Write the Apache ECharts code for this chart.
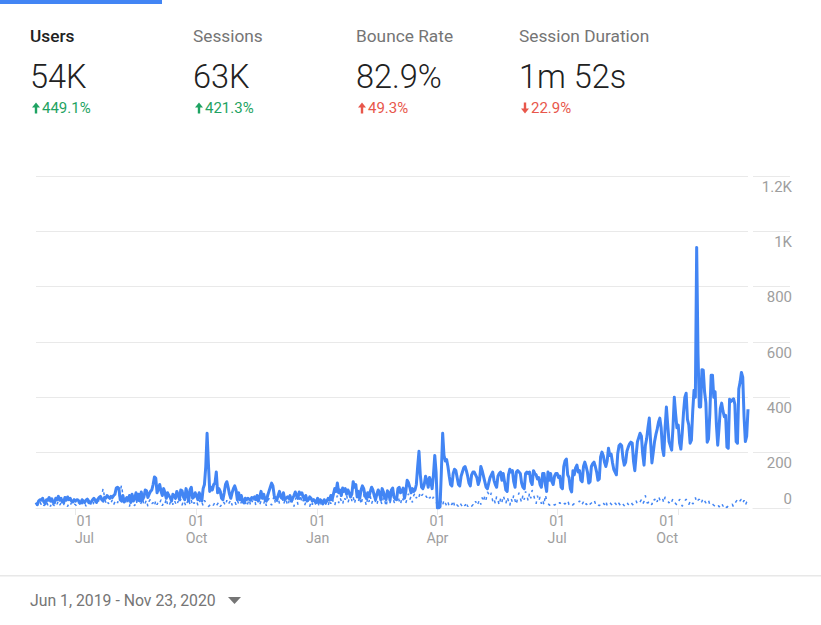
<!DOCTYPE html>
<html><head><meta charset="utf-8">
<style>html,body{margin:0;padding:0;background:#fff}#c{width:821px;height:625px}</style>
<script src="https://cdn.jsdelivr.net/npm/echarts@6/dist/echarts.min.js"></script>
</head><body><div id="c"></div>
<script>
const monthStarts=[[2019,5],[2019,6],[2019,7],[2019,8],[2019,9],[2019,10],[2019,11],[2020,0],[2020,1],[2020,2],[2020,3],[2020,4],[2020,5],[2020,6],[2020,7],[2020,8],[2020,9],[2020,10]];
const usersByMonth=[
[20,12,25,30,28,35,22,15,30,28,38,25,33,20,18,35,30,42,28,35,22,20,38,28,40,30,35,25,22,30],
[25,30,28,22,18,30,25,20,28,32,25,18,22,30,35,28,20,32,38,42,30,25,38,35,45,40,35,42,38,45,50],
[72,75,70,30,25,45,22,30,38,28,45,20,50,25,35,55,28,50,25,58,30,40,65,62,38,50,60,65,85,112,108],
[55,70,85,60,45,70,55,35,55,45,38,25,50,45,35,60,48,30,65,62,40,30,70,50,25,65,75,35,40,55],
[45,30,55,40,25,70,85,150,270,160,60,75,65,85,90,130,55,70,60,35,30,55,85,95,75,50,35,55,70,80,65],
[30,55,30,45,25,18,35,30,35,32,28,38,35,40,30,45,25,40,60,35,50,30,25,45,60,75,90,80,45,35],
[30,45,60,40,35,55,30,35,40,35,45,25,35,45,58,45,35,58,50,55,40,30,45,25,30,40,35,25,30,25,20],
[35,20,30,25,15,30,20,25,35,28,45,30,50,70,60,90,55,65,45,72,60,70,50,65,55,40,50,95,75,85,40],
[60,35,65,80,70,45,35,55,40,60,75,65,45,30,50,65,55,30,70,58,38,30,62,55,28,65,72,40,32],
[30,70,75,55,60,72,35,60,100,92,75,55,70,60,65,85,150,205,120,75,70,85,115,100,75,110,95,70,120,190,130],
[0,0,5,130,270,190,170,175,150,115,85,80,125,140,135,110,85,80,115,130,145,150,135,115,90,80,120,130,130,120],
[110,85,100,150,135,115,95,75,70,90,110,120,130,100,85,75,115,125,130,100,125,95,65,60,120,140,130,135,95,75,130],
[135,130,125,90,75,70,125,130,125,130,95,85,135,125,120,105,110,85,75,125,125,85,60,130,100,125,95,85,115,125],
[125,110,115,75,70,150,170,177,120,110,70,58,135,120,145,155,130,135,100,95,150,166,150,130,90,95,150,160,166,150,130],
[100,105,185,202,190,165,150,170,216,190,195,165,140,130,120,195,225,231,225,180,155,165,205,220,232,238,235,170,135,190,240],
[255,270,260,195,155,225,250,290,325,240,163,200,240,265,285,310,325,290,215,190,290,365,300,240,225,209,290,400,340,290],
[300,235,213,270,345,400,415,320,300,234,245,350,426,400,942,560,365,365,500,498,420,380,238,250,340,480,480,400,420,300,227],
[290,360,379,350,330,335,220,216,393,385,390,395,375,240,234,430,455,490,473,330,240,260,357]
];
const previousByMonth=[
[18,8,15,22,12,20,8,15,25,10,18,5,22,12,8,20,14,25,10,18,6,12,22,15,5,18,10,20,8,14],
[12,5,20,15,8,22,10,18,6,25,15,28,10,5,22,18,30,12,35,25,45,72,40,20,30,15,25,18,30,12,22],
[30,18,40,60,83,45,20,30,12,28,5,25,35,15,8,30,12,28,10,20,35,8,18,30,5,25,32,15,20,6,28],
[12,25,18,30,8,22,15,35,10,5,20,28,12,30,18,8,25,15,32,10,28,18,5,22,35,12,28,8,20,15],
[25,10,30,15,22,8,28,18,12,5,10,15,6,12,20,8,15,22,5,12,25,18,8,28,12,20,30,10,18,25,12],
[28,15,8,22,35,12,25,5,18,32,10,28,15,38,8,22,30,12,25,42,15,30,8,20,35,18,10,28,45,12],
[22,38,15,30,48,12,25,35,8,20,42,15,28,5,30,40,12,25,48,18,30,8,22,35,15,5,25,12,28,18,8],
[20,10,25,6,15,28,12,22,8,30,15,35,20,8,32,45,18,38,25,12,40,30,48,18,35,55,25,42,15,38,50],
[25,42,12,35,50,28,8,38,22,45,15,30,52,20,10,35,48,25,12,40,28,5,32,45,18,38,50,22,15],
[38,45,25,12,40,28,48,18,35,52,30,42,20,45,55,35,48,40,58,45,50,40,45,38,48,35,42,30,40,28,20],
[12,6,15,25,10,30,18,8,22,5,15,12,28,8,18,10,6,20,12,5,15,8,22,5,14,10,6,12,8,25],
[8,18,30,12,38,22,45,30,58,50,40,55,25,35,15,42,28,10,35,20,45,30,15,40,25,8,35,20,48,28,12],
[40,55,35,20,48,30,60,45,25,55,35,65,50,30,15,45,25,40,15,30,10,48,28,18,10,12,8,15,10,14],
[8,14,20,12,10,18,14,20,28,12,6,4,12,16,14,16,18,26,10,14,22,8,16,10,4,14,18,24,30,16,22],
[12,8,14,22,18,12,26,8,16,20,14,10,6,18,12,24,16,10,20,14,8,16,22,12,18,24,14,10,18,26,12],
[16,22,30,14,24,46,20,18,26,14,12,34,28,38,22,42,30,26,36,18,40,34,26,18,30,22,34,24,16,10],
[18,32,24,6,16,26,32,20,12,24,28,14,22,38,20,28,32,16,24,36,26,18,30,28,12,18,14,10,6,10,14],
[4,8,18,6,14,4,2,8,6,10,14,4,16,24,30,20,26,32,18,28,10,22,28]
];
const xTickMonths=[[2019,6,'Jul'],[2019,9,'Oct'],[2020,0,'Jan'],[2020,3,'Apr'],[2020,6,'Jul'],[2020,9,'Oct']];
const yTicks=[0,200,400,600,800,1000,1200];
const yTickLabels=['0','200','400','600','800','1K','1.2K'];
const metricNames=['Users','Sessions','Bounce Rate','Session Duration'];
const metricValues=['54K','63K','82.9%','1m 52s'];
const metricDeltas=['449.1%','421.3%','49.3%','22.9%'];
const metricUp=[true,true,true,false];
const metricGood=[true,true,false,false];
const dateRange='Jun 1, 2019 - Nov 23, 2020';

function toPoints(byMonth){
  const out=[];
  byMonth.forEach((vals,m)=>vals.forEach((v,i)=>out.push([Date.UTC(monthStarts[m][0],monthStarts[m][1],i+1),v])));
  return out;
}
const xVals=xTickMonths.map(t=>Date.UTC(t[0],t[1],1));
const font='Roboto';
const metricX=[30,193,356,519];
const graphics=[
 {type:'rect',shape:{x:0,y:0,width:162,height:4},style:{fill:'#4285f4'}},
 {type:'rect',shape:{x:0,y:575,width:821,height:1.5},style:{fill:'#e8e8e8'}},
 {type:'text',x:30,y:600,style:{text:dateRange,font:'15.8px '+font,fill:'#757575',textVerticalAlign:'middle'}},
 {type:'polygon',shape:{points:[[228,597],[241,597],[234.5,604]]},style:{fill:'#757575'}}
];
metricNames.forEach((n,i)=>{
  const x=metricX[i], col=metricGood[i]?'#1ea362':'#e8574b';
  graphics.push({type:'text',x:x,y:36,style:{text:n,font:(i===0?'500 ':'400 ')+'17.3px '+font,fill:i===0?'#212121':'#757575',textVerticalAlign:'middle'}});
  graphics.push({type:'text',x:x,y:77,style:{text:metricValues[i],font:'300 32.5px '+font,fill:'#212121',textVerticalAlign:'middle'}});
  graphics.push({type:'text',x:x+12,y:108,style:{text:metricDeltas[i],font:'15px '+font,fill:col,textVerticalAlign:'middle'}});
  const cx=x+6,t=metricUp[i]?102.5:113.5,d=metricUp[i]?1:-1;
  graphics.push({type:'polygon',shape:{points:[[cx,t],[cx+4,t+5*d],[cx+1.2,t+5*d],[cx+1.2,t+11*d],[cx-1.2,t+11*d],[cx-1.2,t+5*d],[cx-4,t+5*d]]},style:{fill:col}});
});
const gridLine={show:true,lineStyle:{color:'#e9e9e9',width:1}};
const chart=echarts.init(document.getElementById('c'),null,{renderer:'svg'});
chart.setOption({
 animation:false,
 textStyle:{fontFamily:font},
 graphic:graphics,
 grid:[{left:36,right:73,top:176,bottom:117},{left:753,right:31,top:176,bottom:117}],
 xAxis:[{type:'value',gridIndex:0,min:Date.UTC(2019,5,1),max:Date.UTC(2020,10,23),
   axisLine:{show:true,onZero:false,lineStyle:{color:'#e9e9e9'}},
   axisTick:{show:true,length:7,lineStyle:{color:'#e9e9e9'},customValues:xVals},
   splitLine:{show:false},
   axisLabel:{show:true,customValues:xVals,margin:4,hideOverlap:false,color:'#9e9e9e',fontSize:14.2,lineHeight:17,
     formatter:function(v){const i=xVals.indexOf(v);const s='01\n'+xTickMonths[i][2];
       return i===0?'{r|'+s+'}':(i===5?'{l|'+s+'}':s);},
     rich:{r:{padding:[0,0,0,18],color:'#9e9e9e',fontSize:14.2,lineHeight:17},l:{padding:[0,22,0,0],color:'#9e9e9e',fontSize:14.2,lineHeight:17}}}},
  {type:'value',gridIndex:1,min:0,max:1,axisLine:{show:true,onZero:false,lineStyle:{color:'#e9e9e9'}},axisTick:{show:false},axisLabel:{show:false},splitLine:{show:false}}],
 yAxis:[{type:'value',gridIndex:0,min:0,max:1200,interval:200,axisLine:{show:false},axisTick:{show:false},axisLabel:{show:false},splitLine:gridLine},
  {type:'value',gridIndex:1,position:'right',min:0,max:1200,interval:200,axisLine:{show:false},axisTick:{show:false},splitLine:gridLine,
   axisLabel:{inside:true,margin:-2,color:'#9e9e9e',fontSize:15,verticalAlignMinLabel:'bottom',verticalAlign:'top',padding:[3,0,2,0],align:'right',showMinLabel:true,showMaxLabel:true,
     formatter:v=>yTickLabels[yTicks.indexOf(v)]}}],
 series:[
  {name:'Previous',type:'line',xAxisIndex:0,yAxisIndex:0,showSymbol:false,data:toPoints(previousByMonth),lineStyle:{color:'#4285f4',width:1.5,type:[3,5]},z:2},
  {name:'Users',type:'line',xAxisIndex:0,yAxisIndex:0,showSymbol:false,data:toPoints(usersByMonth),lineStyle:{color:'#4285f4',width:3,join:'round'},z:3}
 ]
});
</script></body></html>
